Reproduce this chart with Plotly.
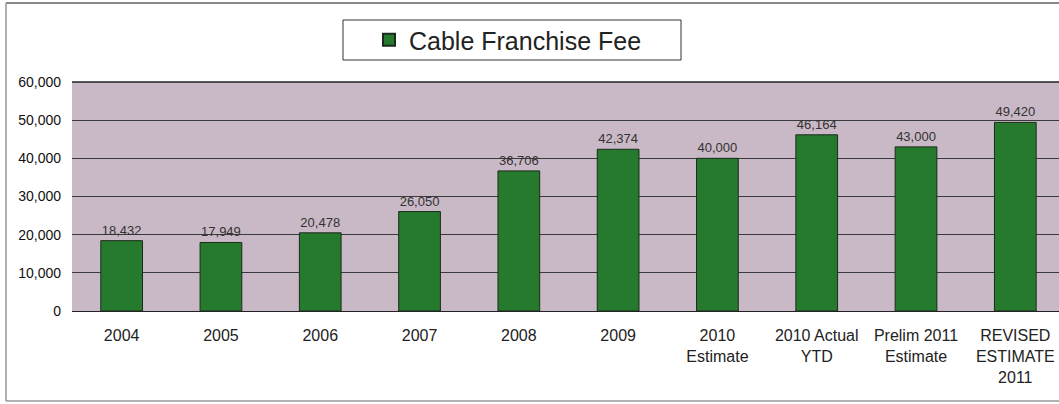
import plotly.graph_objects as go

categories = ["2004", "2005", "2006", "2007", "2008", "2009",
              "2010<br>Estimate", "2010 Actual<br>YTD", "Prelim 2011<br>Estimate",
              "REVISED<br>ESTIMATE<br>2011"]
values = [18432, 17949, 20478, 26050, 36706, 42374, 40000, 46164, 43000, 49420]
y_ticks = [0, 10000, 20000, 30000, 40000, 50000, 60000]
y_tick_labels = ["0", "10,000", "20,000", "30,000", "40,000", "50,000", "60,000"]
series_name = "Cable Franchise Fee"

W, H = 1059, 404
L, R, T, B = 72, 0, 82, 93
pw, ph = W - L - R, H - T - B

def px(x):
    return (x - L) / pw

def py(y):
    return (H - B - y) / ph

FONT = "Liberation Sans, Arial, sans-serif"

fig = go.Figure()
fig.add_trace(go.Bar(
    x=list(range(len(categories))), y=values, name=series_name,
    width=0.42,
    marker=dict(color="#267a2e", line=dict(color="#1c2a1c", width=1)),
    text=[f"{v:,}" for v in values], textposition="outside",
    textfont=dict(family=FONT, size=13, color="#333333"),
    cliponaxis=False,
    showlegend=True,
))

fig.update_layout(
    width=W, height=H,
    margin=dict(l=L, r=R, t=T, b=B),
    paper_bgcolor="white",
    plot_bgcolor="#c9b8c5",
    font=dict(family=FONT, color="#222222"),
    showlegend=True,
    legend=dict(
        x=px(508), y=py(40), xanchor="center", yanchor="middle",
        bgcolor="rgba(0,0,0,0)", borderwidth=0,
        font=dict(size=25, color="#222222"),
        itemsizing="constant", itemwidth=30,
    ),
    xaxis=dict(
        tickmode="array", tickvals=list(range(len(categories))), ticktext=categories,
        range=[-0.5, 9.44], showgrid=False, zeroline=False,
        showline=True, linecolor="#222222", linewidth=1,
        ticks="", ticklabelstandoff=10,
        tickfont=dict(size=16, color="#222222"),
    ),
    yaxis=dict(
        range=[0, 60000], tickmode="array", tickvals=y_ticks, ticktext=y_tick_labels,
        showgrid=True, gridcolor="#3a3a3a", gridwidth=1,
        zeroline=False, showline=False, ticks="", ticklabelstandoff=10,
        tickfont=dict(size=14, color="#111111"),
    ),
    shapes=[
        dict(type="rect", xref="paper", yref="paper",
             x0=px(343), x1=px(681), y0=py(60), y1=py(20),
             line=dict(color="#333333", width=1), fillcolor="rgba(0,0,0,0)", layer="below"),
        dict(type="line", xref="paper", yref="paper",
             x0=px(6), x1=px(1059), y0=py(3), y1=py(3),
             line=dict(color="#888888", width=2)),
        dict(type="line", xref="paper", yref="paper",
             x0=px(6), x1=px(6), y0=py(3), y1=py(401),
             line=dict(color="#999999", width=1.5)),
        dict(type="line", xref="paper", yref="paper",
             x0=px(6), x1=px(1059), y0=py(401), y1=py(401),
             line=dict(color="#999999", width=1.5)),
        dict(type="line", xref="paper", yref="paper",
             x0=0, x1=1, y0=1, y1=1, line=dict(color="#222222", width=1.5)),
    ],
)

fig.write_html("out.html", config={"displayModeBar": False},
               post_script="document.body.style.margin='0';")
